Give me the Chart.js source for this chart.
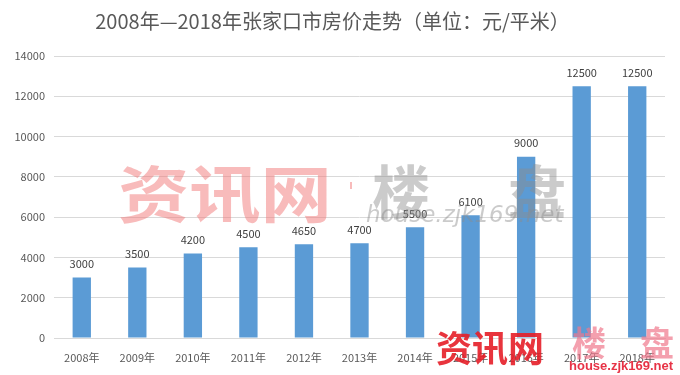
<!DOCTYPE html>
<html>
  <head>
    <meta charset="UTF-8" />
    <title>张家口市房价走势</title>
    <script src="https://cdn.jsdelivr.net/npm/chart.js"></script>
    <style>
      html, body { margin: 0; padding: 0; background: #fff; }
      #wrap { width: 680px; height: 375px; position: relative; }
    </style>
  </head>
  <body>
    <div id="wrap"><canvas id="myChart"></canvas></div>
    <script>
      // 数据
      const years = ['2008年', '2009年', '2010年', '2011年', '2012年', '2013年', '2014年', '2015年', '2016年', '2017年', '2018年'];
      const prices = [3000, 3500, 4200, 4500, 4650, 4700, 5500, 6100, 9000, 12500, 12500];
      const titleText = '2008年—2018年张家口市房价走势（单位：元/平米）';

      const fontFamily = '"Noto Sans CJK SC", "Noto Sans", sans-serif';

      // 柱顶数值
      const barLabels = {
        id: 'barLabels',
        afterDatasetsDraw(chart) {
          const ctx = chart.ctx;
          const meta = chart.getDatasetMeta(0);
          ctx.save();
          ctx.font = '11px ' + fontFamily;
          ctx.fillStyle = '#404040';
          ctx.textAlign = 'center';
          ctx.textBaseline = 'bottom';
          meta.data.forEach((bar, i) => {
            ctx.fillText(String(prices[i]), bar.x, bar.y - 8);
          });
          ctx.restore();
        }
      };

      // 水印
      const watermark = {
        id: 'watermark',
        afterDraw(chart) {
          const ctx = chart.ctx;
          ctx.save();
          ctx.textBaseline = 'alphabetic';
          ctx.textAlign = 'left';
          ctx.save();
          ctx.translate(118, 218);
          ctx.scale(1.15, 1);
          ctx.font = 'bold 62px ' + fontFamily;
          ctx.fillStyle = 'rgba(242,120,120,0.5)';
          ctx.fillText('资讯网', 0, 0);
          ctx.restore();
          ctx.fillStyle = 'rgba(242,120,120,0.5)';
          ctx.fillRect(350, 182, 2, 7);
          ctx.font = 'bold 58px ' + fontFamily;
          ctx.fillStyle = 'rgba(140,140,140,0.45)';
          ctx.fillText('楼', 372, 214);
          ctx.fillText('盘', 508, 214);
          ctx.font = 'italic 23px "DejaVu Sans", sans-serif';
          ctx.fillText('house.zjk169.net', 366, 222);

          ctx.font = 'bold 36px ' + fontFamily;
          ctx.fillStyle = 'rgba(230,30,40,0.9)';
          ctx.fillText('资讯网', 436, 362);
          ctx.font = 'bold 34px ' + fontFamily;
          ctx.fillStyle = 'rgba(240,120,140,0.7)';
          ctx.fillText('楼', 572, 356);
          ctx.fillText('盘', 640, 356);
          ctx.font = 'bold 13px "Liberation Sans", sans-serif';
          ctx.fillStyle = 'rgba(230,40,60,0.95)';
          ctx.fillText('house.zjk169.net', 569, 370);
          ctx.restore();
        }
      };

      const ctx = document.getElementById('myChart').getContext('2d');
      new Chart(ctx, {
        type: 'bar',
        data: {
          labels: years,
          datasets: [{
            label: '房价',
            data: prices,
            backgroundColor: '#5B9BD5',
            barPercentage: 0.33,
            categoryPercentage: 1
          }]
        },
        options: {
          responsive: true,
          maintainAspectRatio: false,
          animation: false,
          layout: { padding: { left: 0, right: 15, top: 0, bottom: 0 } },
          plugins: {
            legend: { display: false },
            tooltip: { enabled: false },
            title: {
              display: true,
              text: titleText,
              color: '#595959',
              font: { family: fontFamily, size: 20, weight: 'normal' },
              padding: { top: 9, bottom: 23 }
            }
          },
          scales: {
            x: {
              grid: { display: false },
              border: { display: true, color: '#D9D9D9' },
              ticks: {
                color: '#595959',
                font: { family: fontFamily, size: 11 },
                padding: 5,
                maxRotation: 0,
                autoSkip: false
              },
              afterFit(scale) { scale.height = 37; }
            },
            y: {
              min: 0,
              max: 14000,
              ticks: {
                stepSize: 2000,
                color: '#595959',
                font: { family: fontFamily, size: 11 },
                padding: 9,
                callback: (v) => String(v)
              },
              grid: { color: '#D9D9D9', drawTicks: false },
              border: { display: false },
              afterFit(scale) { scale.width = 54; }
            }
          }
        },
        plugins: [barLabels, watermark]
      });
    </script>
  </body>
</html>
